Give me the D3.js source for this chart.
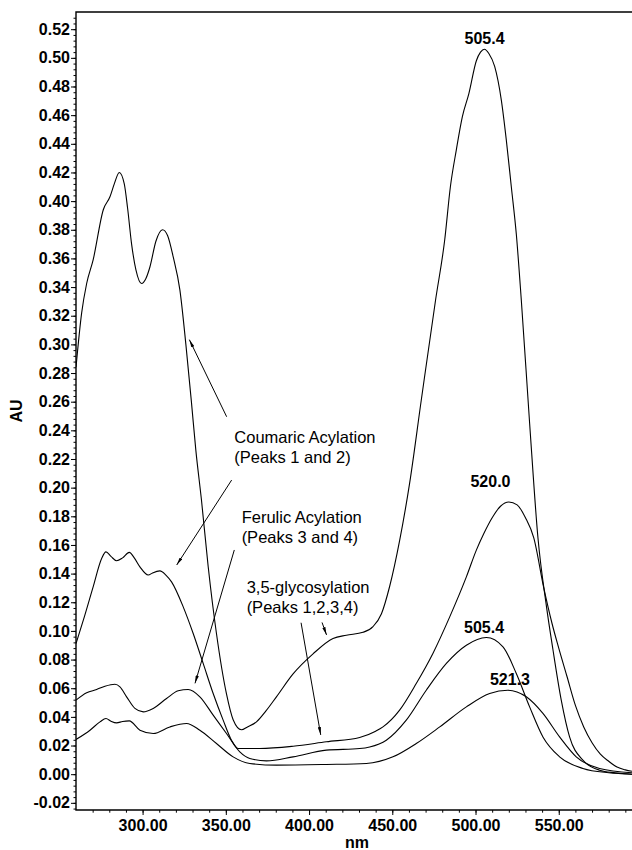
<!DOCTYPE html>
<html>
<head>
<meta charset="utf-8">
<title>Anthocyanin UV-Vis spectra</title>
<script src="https://cdn.jsdelivr.net/npm/d3@7"></script>
<style>
  html, body { margin: 0; padding: 0; background: #fff; }
  svg { display: block; font-family: "Liberation Sans", Arial, Helvetica, sans-serif; }
  .curve { fill: none; stroke: #000; stroke-width: 1.1; }
  .frame { stroke: #000; stroke-width: 1.4; fill: none; }
  .arrow { stroke: #000; stroke-width: 1; fill: none; }
  .note { font-size: 16.5px; fill: #000; }
  .num { font-size: 16px; font-weight: bold; fill: #000; }
</style>
</head>
<body>
<div id="chart"></div>
<script>
// Spectra: [wavelength nm, absorbance AU]
const spectrumPeak1 = [
  [260, 0.284], [263.4, 0.322], [266.4, 0.3425], [270.3, 0.359], [276.4, 0.394], [280.4, 0.403],
  [283, 0.412], [286, 0.42], [289, 0.412], [291, 0.395], [293.4, 0.370], [296, 0.352],
  [299.4, 0.3425], [302, 0.346], [304.4, 0.354], [308, 0.372], [312, 0.380], [315, 0.376],
  [318.4, 0.361], [322.4, 0.338], [326, 0.300], [329.4, 0.259], [332, 0.226], [335.4, 0.191],
  [339.4, 0.145], [344.4, 0.098], [350.4, 0.056], [354.4, 0.038], [359.4, 0.031], [363, 0.033],
  [368.4, 0.0365], [374, 0.044], [380.4, 0.054], [390.4, 0.070], [402.4, 0.084], [414.4, 0.0947],
  [422.4, 0.097], [432.4, 0.099], [438.4, 0.103], [443.5, 0.112], [448.4, 0.131], [454.4, 0.163],
  [460.4, 0.203], [467.4, 0.261], [476, 0.331], [481.5, 0.373], [484.9, 0.41], [488.5, 0.436],
  [492.1, 0.459], [496, 0.475], [500.5, 0.498], [503, 0.504], [505.4, 0.506], [508, 0.503],
  [511.5, 0.494], [515.5, 0.4705], [518.5, 0.4426], [521.5, 0.41], [524.5, 0.377], [527.5, 0.331],
  [532.5, 0.245], [537.5, 0.165], [542.5, 0.118], [546.5, 0.087], [551.5, 0.0517], [556.5, 0.026],
  [564.5, 0.0098], [574.5, 0.0028], [584, 0.001], [594, 0.0]
];

const spectrumPeak2 = [
  [260, 0.0912], [264.4, 0.1075], [270.3, 0.1308], [275.4, 0.1506], [278, 0.1552], [281, 0.152],
  [284.4, 0.149], [288, 0.151], [292, 0.1548], [295, 0.151], [298.4, 0.1447], [303.4, 0.139],
  [306, 0.1405], [310.4, 0.1419], [314, 0.139], [317.4, 0.1342], [324.4, 0.1168], [330.4, 0.0982],
  [336.4, 0.0773], [342.4, 0.0563], [348.4, 0.0377], [353.4, 0.0237], [357.4, 0.0179], [370.4, 0.0179],
  [390.4, 0.0195], [410.4, 0.0226], [430.4, 0.0256], [440, 0.030], [444.4, 0.033], [454.4, 0.0447],
  [464.4, 0.0633], [474.4, 0.0843], [484.5, 0.1098], [494.5, 0.1377], [500.5, 0.1564], [505, 0.168],
  [510, 0.179], [515, 0.187], [520, 0.190], [525, 0.188], [530, 0.179], [535, 0.165],
  [541, 0.130], [546, 0.105], [550, 0.088], [555, 0.068], [560, 0.048], [565, 0.033],
  [570, 0.022], [575, 0.014], [580, 0.009], [585, 0.005], [590, 0.003], [594, 0.002]
];

const spectrumPeak3 = [
  [260, 0.0517], [266.4, 0.0568], [272.4, 0.0591], [277.4, 0.0614], [283.4, 0.0628], [286.4, 0.061],
  [290.4, 0.054], [295.4, 0.0459], [300.4, 0.0435], [306.4, 0.0459], [314.4, 0.0528], [321.4, 0.0582],
  [327.4, 0.0591], [334.4, 0.054], [342.4, 0.0412], [350.4, 0.0284], [358.4, 0.0156], [364.4, 0.011],
  [374.4, 0.0093], [390.4, 0.0121], [410.4, 0.0168], [430.4, 0.0179], [436.4, 0.019], [446.4, 0.0237],
  [458.4, 0.0377], [470.4, 0.0586], [482.5, 0.0773], [494.5, 0.09], [506.5, 0.0954], [516.5, 0.0889],
  [524.5, 0.0703], [532.5, 0.047], [540.5, 0.026], [550.5, 0.0121], [564.5, 0.004], [580, 0.001],
  [594, 0.0]
];

const spectrumPeak4 = [
  [260, 0.0242], [268.4, 0.0307], [274.4, 0.0365], [278, 0.0389], [281, 0.037], [284.4, 0.0358],
  [288, 0.0368], [292, 0.0372], [298.4, 0.0307], [306.4, 0.0284], [316.4, 0.033], [326.4, 0.0354],
  [334.4, 0.0307], [344.4, 0.0214], [354.4, 0.0121], [364.4, 0.0075], [380.4, 0.0063], [410.4, 0.0068],
  [434.4, 0.0075], [450.4, 0.0121], [464.4, 0.0214], [478.5, 0.033], [494.5, 0.047], [508.5, 0.0563],
  [519.4, 0.0586], [530.5, 0.054], [540.5, 0.0424], [550.5, 0.026], [560.5, 0.0121], [574.5, 0.004],
  [594, 0.001]
];

// Axis ticks
const xTickValues = [300, 350, 400, 450, 500, 550];
const yTickValues = [-0.02, 0.00, 0.02, 0.04, 0.06, 0.08, 0.10, 0.12, 0.14, 0.16, 0.18, 0.20, 0.22, 0.24,
  0.26, 0.28, 0.30, 0.32, 0.34, 0.36, 0.38, 0.40, 0.42, 0.44, 0.46, 0.48, 0.50, 0.52];

// Peak maxima labels: text, wavelength and absorbance of the label anchor
const peakLabels = [
  ["505.4", 505.4, 0.506],
  ["520.0", 509, 0.197],
  ["505.4", 505.1, 0.0954],
  ["521.3", 520.7, 0.0586]
];

// Annotation text blocks (left edge, first baseline) and arrows (tail -> head), in data units
const noteBlocks = [
  [["Coumaric Acylation", "(Peaks 1 and 2)"], 355.1, 0.2314],
  [["Ferulic Acylation", "(Peaks 3 and 4)"], 359.5, 0.1755],
  [["3,5-glycosylation", "(Peaks 1,2,3,4)"], 362.5, 0.1267]
];
const noteArrows = [
  [[350.5, 0.2495], [328.1, 0.3033]],
  [[353.5, 0.2053], [320.5, 0.146]],
  [[355.1, 0.1565], [331.5, 0.0634]],
  [[395.2, 0.1057], [407.0, 0.0274]],
  [[407.8, 0.1059], [410.5, 0.0972]]
];

const width = 632, height = 850;
const plot = { left: 76, right: 632, top: 12, bottom: 810 };

const x = d3.scaleLinear().domain([260, 594]).range([plot.left, plot.right]);
const y = d3.scaleLinear().domain([-0.025, 0.532]).range([plot.bottom, plot.top]);

const svg = d3.select('#chart').append('svg')
  .attr('width', width)
  .attr('height', height);

svg.append('defs').append('clipPath').attr('id', 'plot-clip')
  .append('rect')
  .attr('x', plot.left).attr('y', plot.top)
  .attr('width', plot.right - plot.left).attr('height', plot.bottom - plot.top);

svg.select('defs').append('marker')
  .attr('id', 'head')
  .attr('viewBox', '0 0 10 4')
  .attr('markerUnits', 'userSpaceOnUse')
  .attr('markerWidth', 8)
  .attr('markerHeight', 3.4)
  .attr('refX', 10)
  .attr('refY', 2)
  .attr('orient', 'auto')
  .append('path')
  .attr('d', 'M0,0 L10,2 L0,4 Z')
  .attr('fill', '#000');

// Axes: minor ticks first, then labelled majors
const fmt = d => (Math.round(d * 100) / 100).toFixed(2);

svg.append('g')
  .attr('transform', `translate(${plot.left},0)`)
  .call(d3.axisLeft(y).tickValues(d3.range(-24, 532, 4).map(v => v / 1000)).tickSize(2.5).tickFormat(''))
  .call(g => g.select('.domain').remove());

const yAxis = svg.append('g')
  .attr('transform', `translate(${plot.left},0)`)
  .call(d3.axisLeft(y).tickValues(yTickValues).tickSize(5).tickPadding(1).tickFormat(fmt))
  .call(g => g.select('.domain').remove());
yAxis.selectAll('text').attr('class', 'num').attr('font-size', null).attr('font-family', null);

svg.append('g')
  .attr('transform', `translate(0,${plot.bottom})`)
  .call(d3.axisBottom(x).tickValues(d3.range(270, 600, 10)).tickSize(2.7).tickFormat(''))
  .call(g => g.select('.domain').remove());

const xAxis = svg.append('g')
  .attr('transform', `translate(0,${plot.bottom})`)
  .call(d3.axisBottom(x).tickValues(xTickValues).tickSize(5).tickPadding(5).tickFormat(fmt))
  .call(g => g.select('.domain').remove());
xAxis.selectAll('text').attr('class', 'num').attr('font-size', null).attr('font-family', null);

svg.selectAll('.tick line').attr('stroke', '#000').attr('stroke-width', 1);

// Frame: left axis, bottom axis, top rule
svg.append('path').attr('class', 'frame')
  .attr('d', `M${plot.right},${plot.top}H${plot.left}V${plot.bottom}H${plot.right}`);

svg.append('text').attr('class', 'num')
  .attr('text-anchor', 'middle')
  .attr('transform', `translate(22,${(plot.top + plot.bottom) / 2}) rotate(-90)`)
  .text('AU');

svg.append('text').attr('class', 'num')
  .attr('text-anchor', 'middle')
  .attr('x', 357).attr('y', 848)
  .text('nm');

// Spectra
const line = d3.line()
  .x(d => x(d[0]))
  .y(d => y(d[1]))
  .curve(d3.curveMonotoneX);

svg.append('g').attr('clip-path', 'url(#plot-clip)')
  .selectAll('path')
  .data([spectrumPeak1, spectrumPeak2, spectrumPeak3, spectrumPeak4])
  .join('path')
  .attr('class', 'curve')
  .attr('d', line);

// Peak labels
svg.append('g').selectAll('text')
  .data(peakLabels)
  .join('text')
  .attr('class', 'num')
  .attr('text-anchor', 'middle')
  .attr('x', d => x(d[1]))
  .attr('y', d => y(d[2]) - 5)
  .text(d => d[0]);

// Annotations
const notes = svg.append('g');
noteBlocks.forEach(([lines, nm, au]) => {
  lines.forEach((t, i) => {
    notes.append('text').attr('class', 'note')
      .attr('x', x(nm))
      .attr('y', y(au) + i * 20)
      .text(t);
  });
});

notes.selectAll('line')
  .data(noteArrows)
  .join('line')
  .attr('class', 'arrow')
  .attr('x1', d => x(d[0][0])).attr('y1', d => y(d[0][1]))
  .attr('x2', d => x(d[1][0])).attr('y2', d => y(d[1][1]))
  .attr('marker-end', 'url(#head)');
</script>
</body>
</html>
